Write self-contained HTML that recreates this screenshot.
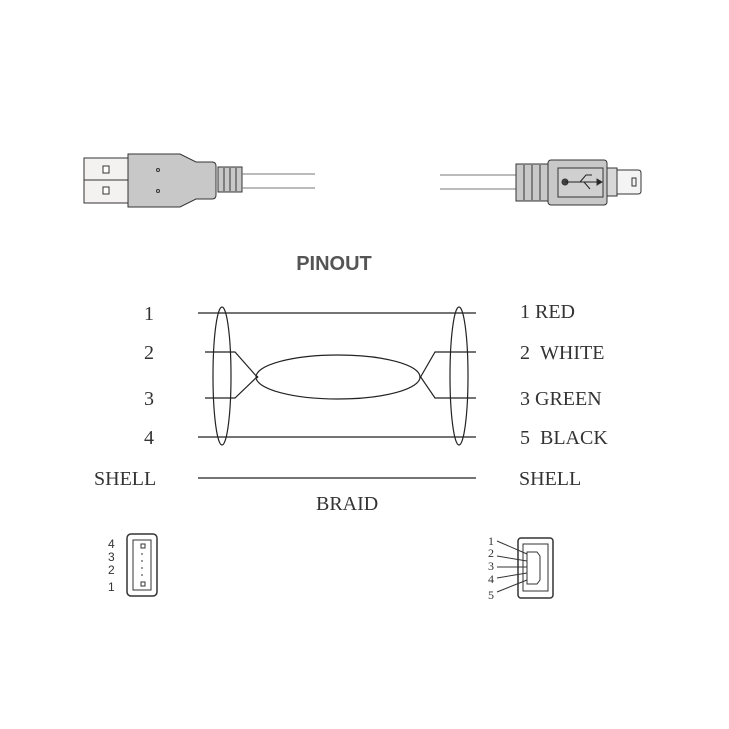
<!DOCTYPE html>
<html><head><meta charset="utf-8"><style>body{margin:0;background:#fff}svg{display:block}</style></head><body>
<svg width="729" height="729" viewBox="0 0 729 729" xmlns="http://www.w3.org/2000/svg">
<g stroke="#333" stroke-width="1" fill="none">
<!-- left plug -->
<rect x="84" y="158" width="44" height="45" fill="#f4f2f0"/>
<line x1="84" y1="180" x2="128" y2="180"/>
<rect x="103" y="166" width="6" height="7" fill="#fff"/>
<rect x="103" y="187" width="6" height="7" fill="#fff"/>
<path d="M128 154 H180 L196 162 H212 Q216 162 216 166 V195 Q216 199 212 199 H196 L180 207 H128 Z" fill="#c8c8c8"/>
<circle cx="158" cy="170" r="1.5"/><circle cx="158" cy="191" r="1.5"/>
<rect x="218" y="167" width="24" height="25" fill="#c8c8c8"/>
<line x1="224" y1="168" x2="224" y2="191"/><line x1="230" y1="168" x2="230" y2="191"/><line x1="236" y1="168" x2="236" y2="191"/>
<line x1="242" y1="174" x2="315" y2="174" stroke="#777"/>
<line x1="242" y1="188" x2="315" y2="188" stroke="#777"/>
<!-- right plug -->
<line x1="440" y1="175" x2="516" y2="175" stroke="#777"/>
<line x1="440" y1="189" x2="516" y2="189" stroke="#777"/>
<rect x="516" y="164" width="32" height="37" fill="#c8c8c8"/>
<line x1="524" y1="165" x2="524" y2="200"/><line x1="532" y1="165" x2="532" y2="200"/><line x1="540" y1="165" x2="540" y2="200"/>
<rect x="548" y="160" width="59" height="45" rx="3" fill="#c8c8c8"/>
<rect x="558" y="168" width="45" height="29" fill="#d0d0d0"/>
<circle cx="565" cy="182" r="3" fill="#444"/>
<path d="M565 182 H597 M580 182 L586 175 H592 M584 182 L590 189" stroke="#222"/>
<path d="M597 179 L602 182 L597 185 Z" fill="#222"/>
<rect x="607" y="168" width="10" height="28" fill="#d8d8d8"/>
<path d="M617 170 H638 Q641 170 641 173 V191 Q641 194 638 194 H617 Z" fill="#f4f4f4"/>
<rect x="632" y="178" width="4" height="8"/>
</g>
<text x="334" y="270" text-anchor="middle" font-family="Liberation Sans, sans-serif" font-weight="bold" font-size="20" fill="#555">PINOUT</text>
<g stroke="#222" stroke-width="1.2" fill="none">
<line x1="198" y1="313" x2="476" y2="313"/>
<path d="M205 352 H235 L258 378 M205 398 H235 L258 376"/>
<path d="M476 352 H435 L420 378 M476 398 H435 L420 376"/>
<ellipse cx="338" cy="377" rx="82" ry="22"/>
<line x1="198" y1="437" x2="476" y2="437"/>
<line x1="198" y1="478" x2="476" y2="478"/>
<ellipse cx="222" cy="376" rx="9" ry="69"/>
<ellipse cx="459" cy="376" rx="9" ry="69"/>
</g>
<g font-family="Liberation Serif, serif" font-size="20" fill="#333">
<text x="144" y="320">1</text><text x="144" y="359">2</text><text x="144" y="405">3</text><text x="144" y="444">4</text>
<text x="94" y="485">SHELL</text>
<text x="520" y="318">1 RED</text><text x="520" y="359">2 &#160;WHITE</text><text x="520" y="405">3 GREEN</text><text x="520" y="444">5 &#160;BLACK</text>
<text x="519" y="485">SHELL</text>
<text x="316" y="510">BRAID</text>
</g>
<!-- pin diagrams -->
<g font-family="Liberation Sans, sans-serif" font-size="12" fill="#333">
<text x="108" y="548">4</text><text x="108" y="561">3</text><text x="108" y="574">2</text><text x="108" y="591">1</text>
</g>
<g stroke="#333" fill="none">
<rect x="127" y="534" width="30" height="62" rx="4" stroke-width="1.5"/>
<rect x="133" y="540" width="18" height="50"/>
<rect x="141" y="544" width="4" height="4"/><rect x="141" y="582" width="4" height="4"/>
<path d="M142 553 v2 M142 560 v2 M142 567 v2 M142 574 v2"/>
<rect x="518" y="538" width="35" height="60" rx="3" stroke-width="1.5"/>
<rect x="523" y="544" width="25" height="47"/>
<path d="M527 552 H537 L540 556 V580 L537 584 H527 Z"/>
<path d="M497 541 L527 554 M497 556 L527 561 M497 567 L527 567 M497 578 L527 573 M497 592 L527 580"/>
</g>
<g font-family="Liberation Serif, serif" font-size="12" fill="#333">
<text x="488" y="545">1</text><text x="488" y="557">2</text><text x="488" y="570">3</text><text x="488" y="583">4</text><text x="488" y="599">5</text>
</g>
</svg>
</body></html>
